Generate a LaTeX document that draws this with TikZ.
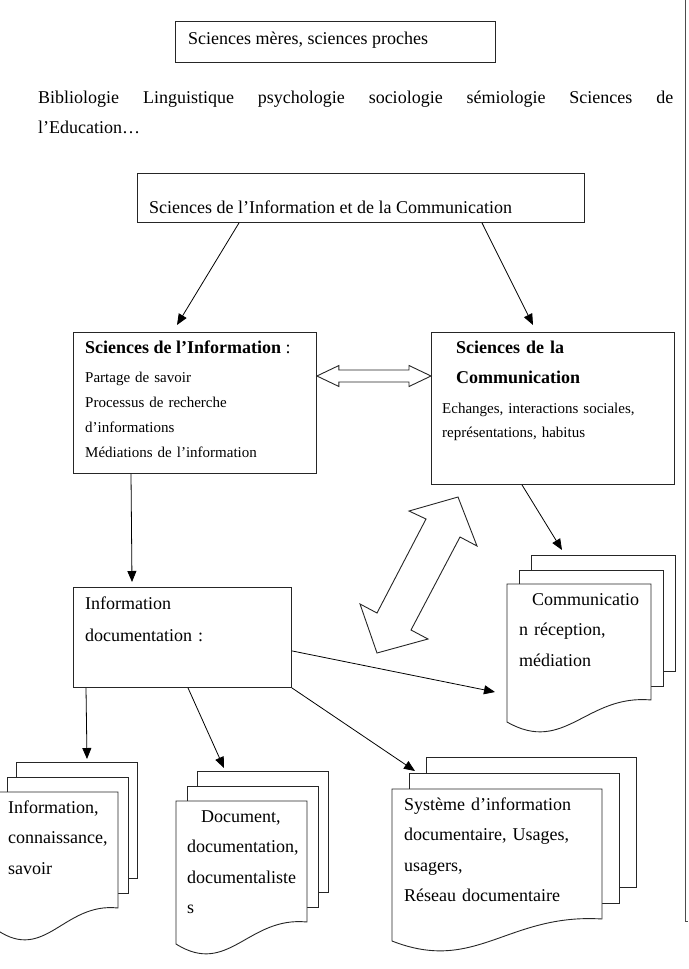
\documentclass[tikz,border=0pt]{standalone}
\usepackage{fontspec}
\setmainfont{Liberation Serif}
\usetikzlibrary{positioning,calc,arrows.meta}

\newcommand\fsbig{\fontsize{18}{30.6}\selectfont}
\newcommand\fssmall{\fontsize{15}{25.3}\selectfont}

% pile de feuilles : nom, x, y (coin haut gauche de la feuille avant), largeur, hauteur, dx, dy
\newcommand\docpile[7]{%
  \node[sheet, minimum width=#4, minimum height=#5] (#1-b) at (#2+2*#6, #3-2*#7) {};
  \node[sheet, minimum width=#4, minimum height=#5] (#1-m) at (#2+#6, #3-#7) {};
  \coordinate (#1-f) at (#2,#3);
  \draw[sheetline] (#1-f) -- ++(#4,0) -- ++(0,#5)
    .. controls (#2+0.55*#4,#3+#5-6) and (#2+0.4*#4,#3+#5+55) .. (#2,#3+#5+22) -- cycle;
}

\begin{document}
\begin{tikzpicture}[x=1pt, y=-1pt,
    box/.style={draw=black!85, line width=0.9pt, inner sep=0, anchor=north west},
    sheet/.style={box, fill=white},
    sheetline/.style={draw=black!85, line width=0.9pt, fill=white},
    txt/.style={inner sep=0, anchor=base west, align=left, font=\fsbig},
    bloc/.style={txt, text width=300},
    petit/.style={bloc, font=\fssmall},
    fleche/.style={line width=0.8pt, -{Triangle[length=11pt, width=9pt]}},
    creuse/.style={draw=black!85, line width=0.9pt, fill=white, line join=miter}]
  \useasboundingbox (0,0) rectangle (688,969);

  % cadre de page
  \draw[line width=0.8pt, black!70] (685,0) -- (685,921) -- (688,921);

  % sciences meres
  \node[box, minimum width=320, minimum height=41] (meres) at (175,21) {};
  \node[txt] (meres-t) at (188,44) {Sciences mères, sciences proches};
  \node[txt, text width=635, align=justify] (disc) at (38,103)
    {\tolerance=9999 \hyphenpenalty=10000 Bibliologie Linguistique psychologie sociologie sémiologie Sciences de\linebreak l’Education…};

  % SIC
  \node[box, minimum width=447, minimum height=49] (sic) at (137,173) {};
  \node[txt] (sic-t) at (149,213) {Sciences de l’Information et de la Communication};

  % sciences de l'information
  \node[box, minimum width=243, minimum height=141] (si) at (73,332) {};
  \node[txt] (si-t) at (85,353) {\textbf{Sciences de l’Information} :};
  \node[petit] (si-l) at (85,382) {Partage de savoir\\Processus de recherche\\d’informations\\Médiations de l’information};

  % sciences de la communication
  \node[box, minimum width=243, minimum height=152] (sc) at (431,332) {};
  \node[bloc, font=\fsbig\bfseries] (sc-t) at (456,353) {Sciences de la\\Communication};
  \node[petit, font=\fontsize{15}{24}\selectfont] (sc-l) at (442,413) {Echanges, interactions sociales,\\représentations, habitus};

  % information documentation
  \node[box, minimum width=218, minimum height=100] (id) at (73,587) {};
  \node[bloc, font=\fontsize{18}{32}\selectfont] (id-t) at (85,609) {Information\\documentation :};

  % doubles fleches creuses
  \coordinate (hy) at (0,376);
  \draw[creuse] (si.east |- hy) -- ++(22,-10.5) -- ++(0,4.5) -- ($(sc.west |- hy)+(-22,-6)$)
    -- ++(0,-4.5) -- (sc.west |- hy) -- ++(-22,10.5) -- ++(0,-4.5)
    -- ($(si.east |- hy)+(22,6)$) -- ++(0,4.5) -- cycle;
  \draw[creuse] (458,497) -- (477,546) -- (460,537) -- (411,630) -- (428,639) -- (377,653)
    -- (360,604) -- (377,613) -- (426,519) -- (409,511) -- cycle;

  % piles de documents
  \docpile{savoir}{-3}{792}{121}{116}{9.5}{15}
  \docpile{docum}{176}{801}{131}{121}{10.5}{15}
  \docpile{systeme}{392}{789}{210}{130}{17}{16}
  \docpile{comm}{507}{584}{144}{116}{12}{14.5}
  \node[bloc] (savoir-t) at (8,813) {Information,\\connaissance,\\savoir};
  \node[bloc] (docum-t) at (187,822) {\hspace*{14pt}Document,\\documentation,\\documentaliste\\s};
  \node[bloc] (systeme-t) at (404,810) {Système d’information\\documentaire, Usages,\\usagers,\\Réseau documentaire};
  \node[bloc] (comm-t) at (519,605) {\hspace*{13pt}Communicatio\\n réception,\\médiation};

  % fleches
  \draw[fleche] ([shift={(102,0)}]sic.south west) -- ([shift={(104,-7)}]si.north west);
  \draw[fleche] ([shift={(345,0)}]sic.south west) -- ([shift={(102,-7)}]sc.north west);
  \draw[fleche] ([shift={(58,0)}]si.south west) -- ([shift={(59,-5)}]id.north west);
  \draw[fleche] ([shift={(91,0)}]sc.south west) -- ([shift={(31,-5)}]comm-b.north west);
  \draw[fleche] ([shift={(0,-37)}]id.south east) -- ([shift={(-12,108)}]comm-f);
  \draw[fleche] ([shift={(13,0)}]id.south west) -- ([shift={(71,-3)}]savoir-b.north west);
  \draw[fleche] ([shift={(115,0)}]id.south west) -- ([shift={(27,-3)}]docum-b.north west);
  \draw[fleche] (id.south east) -- ([shift={(6,-2)}]systeme-m.north west);
\end{tikzpicture}
\end{document}
